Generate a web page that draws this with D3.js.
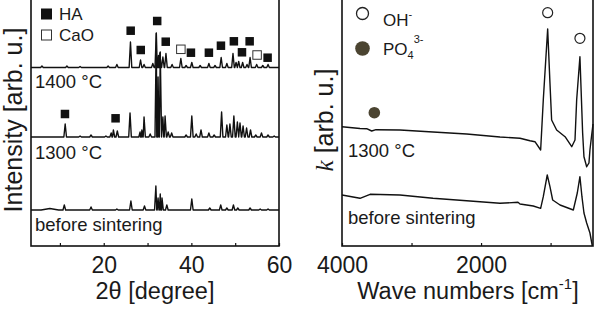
<!DOCTYPE html>
<html>
<head>
<meta charset="utf-8">
<script src="https://cdn.jsdelivr.net/npm/d3@7"></script>
<style>
  body { margin: 0; background: #fff; }
  svg { display: block; font-family: "Liberation Sans", Arial, sans-serif; }
</style>
</head>
<body>
<div id="chart"></div>
<script>
// ---- XRD (left): peaks as [2theta, height above baseline, half width] ----
const xrdLabels = ["1400 °C", "1300 °C", "before sintering"];
const xrdOffsets = [178.5, 109, 36];

const peaks1400 = [
  [5.9, 1.5], [11.6, 1.5], [14.6, 1], [21.0, 1.5], [23.0, 3], [26.1, 25.5],
  [28.4, 7.5], [29.2, 3], [31.2, 4], [32.0, 34], [32.5, 12], [32.8, 14.5],
  [33.5, 10.5], [34.2, 14], [35.6, 3], [37.6, 9], [38.8, 2], [40.1, 5],
  [42.0, 2], [44.0, 4], [45.4, 2], [46.8, 10], [48.1, 4], [49.5, 14],
  [50.2, 5], [50.8, 6], [51.7, 5], [52.7, 3], [53.4, 10], [54.9, 3],
  [56.3, 2], [57.5, 3]
];
const peaks1300 = [
  [11.2, 13], [14.6, 1], [17.1, 2], [20.5, 1], [21.7, 4], [22.2, 7],
  [23.1, 6], [26.0, 24], [28.3, 5], [28.7, 7], [29.2, 20], [30.6, 3],
  [32.0, 104], [32.4, 60], [32.9, 85], [33.5, 20], [34.0, 21], [34.7, 5],
  [35.5, 4], [38.8, 2], [40.1, 21], [41.1, 3], [42.2, 7], [44.0, 4],
  [45.2, 2], [46.9, 25], [48.1, 12], [48.8, 13], [49.7, 21], [50.5, 15],
  [51.1, 14], [51.8, 11], [52.6, 9], [53.5, 7], [54.7, 2], [56.0, 4],
  [57.5, 2], [58.9, 1]
];
const peaksBefore = [
  [7.7, 1.5, 2.0], [11.0, 5], [17.1, 3], [23.0, 1], [26.2, 9], [29.3, 4],
  [31.9, 24], [32.4, 12], [32.9, 16], [33.3, 12], [34.4, 5], [40.1, 11],
  [44.2, 2], [46.7, 5], [48.1, 2], [49.6, 5], [50.6, 2], [53.4, 2],
  [55.7, 1], [57.5, 1]
];
const xrdPeaks = [peaks1400, peaks1300, peaksBefore];

// phase markers [2theta, level]
const haMarks = [
  [26.15, 215.3], [28.45, 196], [32.2, 225], [34.15, 204.3], [39.9, 193.3],
  [44.0, 193.3], [46.75, 200.3], [49.7, 204.7], [51.55, 193.7], [53.3, 204.7],
  [57.4, 188.3], [11.15, 132], [22.7, 127.7]
];
const caoMarks = [[37.6, 196.7], [55.0, 191]];

const xrdTicks = [10, 20, 30, 40, 50, 60];
const xrdTickLabels = [20, 40, 60];

// ---- IR (right): [wavenumber, k] ----
const ir1300 = [
  [4000, 119.3], [3741, 117.5], [3645, 117.3], [3573, 115], [3511, 116.3],
  [3166, 116], [2691, 114], [2207, 112], [1728, 109], [1440, 107.7],
  [1296, 105.3], [1225, 104.3], [1143, 96], [1105, 146], [1042, 217],
  [1009, 163], [985, 126], [913, 116], [792, 109.3], [696, 99.3], [649, 106],
  [625, 146], [578, 189.3], [539, 113], [520, 89.3], [481, 79.3], [448, 83],
  [434, 96], [409, 111], [390, 122]
];
const irBefore = [
  [4000, 51], [3741, 47.7], [3596, 51.7], [3166, 51], [2691, 47.7],
  [2207, 45.3], [1728, 42.7], [1469, 43.7], [1440, 42], [1249, 40],
  [1143, 37.7], [1105, 49.3], [1048, 71], [1009, 59.3], [970, 46], [864, 41],
  [673, 36], [616, 53], [578, 69.3], [549, 49.3], [520, 33], [481, 23],
  [434, 13], [400, 0]
];
const ohMarks = [[1042, 233.3], [578, 207.7]];
const po4Marks = [[3535, 133.3]];

const irTicks = [4000, 3000, 2000, 1000];
const irTickLabels = [4000, 2000];

const W = 597, H = 311;
const frameTop = -2, frameBottom = 246;
const svg = d3.select("#chart").append("svg").attr("width", W).attr("height", H);

const xL = d3.scaleLinear().domain([3.4, 60]).range([31, 279]);
const yL = d3.scaleLinear().domain([0, 250]).range([frameBottom, -4]);
const xR = d3.scaleLinear().domain([4000, 390]).range([342, 593]);
const yR = d3.scaleLinear().domain([0, 250]).range([frameBottom, -4]);

const ink = "#111";

// ---------- left panel ----------
const gL = svg.append("g");

xrdPeaks.forEach((pk, i) => {
  const off = xrdOffsets[i];
  let pts = [[3.4, 0], [60, 0]];
  pk.forEach(p => {
    const w = p[2] || 0.3;
    pts.push([p[0] - w, 0], [p[0], p[1]], [p[0] + w, 0]);
  });
  pts.sort((a, b) => a[0] - b[0]);
  gL.append("path")
    .attr("d", d3.line().x(d => xL(d[0])).y(d => yL(d[1] + off))(pts))
    .attr("fill", "none").attr("stroke", ink).attr("stroke-width", 1.4)
    .attr("stroke-linejoin", "round");
});

const sq = 8.5;
gL.selectAll(".ha").data(haMarks).enter().append("rect")
  .attr("x", d => xL(d[0]) - sq / 2).attr("y", d => yL(d[1]) - sq / 2)
  .attr("width", sq).attr("height", sq).attr("fill", ink);
gL.selectAll(".cao").data(caoMarks).enter().append("rect")
  .attr("x", d => xL(d[0]) - sq / 2).attr("y", d => yL(d[1]) - sq / 2)
  .attr("width", sq).attr("height", sq).attr("fill", "#fff")
  .attr("stroke", "#333").attr("stroke-width", 1);

// legend
gL.append("rect").attr("x", 41).attr("y", 8.5).attr("width", 11).attr("height", 11).attr("fill", ink);
gL.append("rect").attr("x", 41.5).attr("y", 30).attr("width", 10).attr("height", 10)
  .attr("fill", "#fff").attr("stroke", "#333").attr("stroke-width", 1);
gL.append("text").attr("x", 59).attr("y", 20).attr("font-size", 17).attr("fill", "#1a1a1a").text("HA");
gL.append("text").attr("x", 59).attr("y", 41).attr("font-size", 17).attr("fill", "#1a1a1a").text("CaO");

// curve labels
const xrdLabelY = [88, 159, 231];
xrdLabels.forEach((t, i) => {
  gL.append("text").attr("x", 35).attr("y", xrdLabelY[i])
    .attr("font-size", 18.5).attr("fill", "#1a1a1a").text(t);
});

const axL = gL.append("g").attr("transform", `translate(0,${frameBottom})`)
  .call(d3.axisBottom(xL).tickValues(xrdTicks).tickSize(-3).tickPadding(11)
    .tickFormat(d => xrdTickLabels.includes(d) ? d : ""));
axL.select(".domain").remove();
axL.selectAll("line").attr("stroke", ink).attr("stroke-width", 1.2);
axL.selectAll("text").attr("font-size", 23).attr("fill", "#1a1a1a")
  .attr("font-family", "Liberation Sans, Arial, sans-serif");

gL.append("rect").attr("x", 31).attr("y", frameTop).attr("width", 248).attr("height", frameBottom - frameTop)
  .attr("fill", "none").attr("stroke", ink).attr("stroke-width", 1.6);

gL.append("text").attr("x", 155).attr("y", 299).attr("text-anchor", "middle")
  .attr("font-size", 23.5).attr("fill", "#1a1a1a").text("2θ [degree]");
gL.append("text").attr("transform", "translate(22,120) rotate(-90)").attr("text-anchor", "middle")
  .attr("font-size", 25).attr("fill", "#1a1a1a").text("Intensity [arb. u.]");

// ---------- right panel ----------
const gR = svg.append("g");
const lineR = d3.line().x(d => xR(d[0])).y(d => yR(d[1]));
[ir1300, irBefore].forEach(s => {
  gR.append("path").attr("d", lineR(s))
    .attr("fill", "none").attr("stroke", ink).attr("stroke-width", 1.4)
    .attr("stroke-linejoin", "round");
});

gR.selectAll(".oh").data(ohMarks).enter().append("circle")
  .attr("cx", d => xR(d[0])).attr("cy", d => yR(d[1])).attr("r", 5)
  .attr("fill", "#fff").attr("stroke", "#222").attr("stroke-width", 1.2);
gR.selectAll(".po").data(po4Marks).enter().append("circle")
  .attr("cx", d => xR(d[0])).attr("cy", d => yR(d[1])).attr("r", 5.8)
  .attr("fill", "#4b4431");

// legend
gR.append("circle").attr("cx", 362.5).attr("cy", 13.5).attr("r", 6)
  .attr("fill", "#fff").attr("stroke", "#222").attr("stroke-width", 1.3);
gR.append("circle").attr("cx", 362.5).attr("cy", 48.5).attr("r", 7.3).attr("fill", "#4b4431");
const t1 = gR.append("text").attr("x", 383).attr("y", 26).attr("font-size", 17).attr("fill", "#1a1a1a");
t1.append("tspan").text("OH");
t1.append("tspan").attr("font-size", 11).attr("dy", -8).text("-");
const t2 = gR.append("text").attr("x", 383).attr("y", 55).attr("font-size", 17).attr("fill", "#1a1a1a");
t2.append("tspan").text("PO");
t2.append("tspan").attr("font-size", 11).attr("dy", 4).text("4");
t2.append("tspan").attr("font-size", 11).attr("dy", -16).text("3-");

gR.append("text").attr("x", 348).attr("y", 157).attr("font-size", 18.5).attr("fill", "#1a1a1a").text("1300 °C");
gR.append("text").attr("x", 348).attr("y", 224).attr("font-size", 18.5).attr("fill", "#1a1a1a").text("before sintering");

const axR = gR.append("g").attr("transform", `translate(0,${frameBottom})`)
  .call(d3.axisBottom(xR).tickValues(irTicks).tickSize(-3).tickPadding(11)
    .tickFormat(d => irTickLabels.includes(d) ? d : ""));
axR.select(".domain").remove();
axR.selectAll("line").attr("stroke", ink).attr("stroke-width", 1.2);
axR.selectAll("text").attr("font-size", 23).attr("fill", "#1a1a1a")
  .attr("font-family", "Liberation Sans, Arial, sans-serif");

gR.append("rect").attr("x", 342).attr("y", frameTop).attr("width", 251).attr("height", frameBottom - frameTop)
  .attr("fill", "none").attr("stroke", ink).attr("stroke-width", 1.6);

const xt = gR.append("text").attr("x", 468).attr("y", 299).attr("text-anchor", "middle")
  .attr("font-size", 23.5).attr("fill", "#1a1a1a");
xt.append("tspan").text("Wave numbers [cm");
xt.append("tspan").attr("font-size", 15).attr("dy", -10).text("-1");
xt.append("tspan").attr("dy", 10).text("]");

const yt = gR.append("text").attr("transform", "translate(333,120) rotate(-90)").attr("text-anchor", "middle")
  .attr("font-size", 25).attr("fill", "#1a1a1a");
yt.append("tspan").attr("font-family", "Liberation Serif, serif").attr("font-style", "italic").text("k");
yt.append("tspan").text(" [arb. u.]");
</script>
</body>
</html>
